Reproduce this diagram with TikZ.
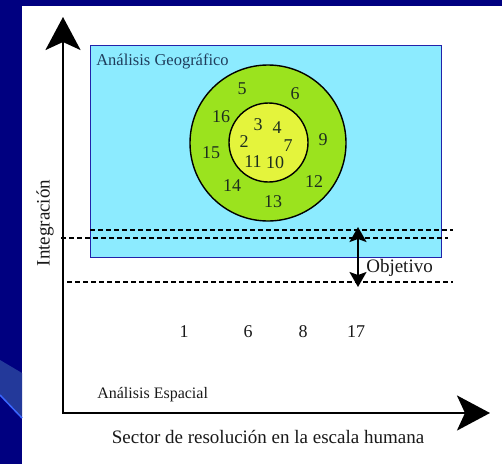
\documentclass[tikz,border=0pt]{standalone}
\usepackage{fontspec}
\setmainfont{Liberation Serif}
\usepackage{xcolor}
\usepackage{tikz}
\usetikzlibrary{arrows.meta}
\usetikzlibrary{calc}
\usetikzlibrary{positioning}

\definecolor{navy}{HTML}{000080}
\definecolor{band}{HTML}{23399A}
\definecolor{bandline}{HTML}{3A66FF}
\definecolor{geofill}{HTML}{8CEBFF}
\definecolor{geoline}{HTML}{2222AA}
\definecolor{ringgreen}{HTML}{9BE31E}
\definecolor{coreyellow}{HTML}{E4F43C}
\definecolor{geotext}{HTML}{1F3D5C}
\definecolor{numtext}{HTML}{1E2E1E}

\begin{document}
\begin{tikzpicture}[x=1pt,y=-1pt,semithick]
  \tikzstyle{every node}=[inner sep=0pt, text=black!90]
  \tikzstyle{num}=[font=\fontsize{18}{18}\selectfont, text=numtext]
  \tikzstyle{bignum}=[font=\fontsize{18}{18}\selectfont]
  \tikzstyle{axis}=[line width=2.6pt, line cap=rect, -{Stealth[length=33pt,width=35pt,inset=8pt]}]
  \tikzstyle{guide}=[line width=1.1pt, dash pattern=on 5pt off 3pt]
  \tikzstyle{ring}=[circle, draw=black, line width=1.4pt]

  \useasboundingbox (0,0) rectangle (502,464);
  % slide frame
  \fill[navy] (0,0) rectangle (502,464);
  \fill[white] (22,6) rectangle (502,464);
  \fill[band] (0,360) -- (22,373) -- (22,418) -- (0,395) -- cycle;
  \draw[bandline, line width=1.5pt] (0,395) -- (22,418);

  % geographic region
  \node[draw=geoline, fill=geofill, line width=1pt, minimum width=351pt, minimum height=212pt] (geo) at (265.5,151) {};
  \node[anchor=west, text=geotext, font=\fontsize{16.5}{16.5}\selectfont] (geolabel) at (96,61) {Análisis Geográfico};

  \node[ring, fill=ringgreen, minimum size=156pt] (outer) at (268,143) {};
  \node[ring, fill=coreyellow, minimum size=79pt] (inner) at (268.5,142.5) {};

  \foreach \n/\x/\y in {5/242/89, 6/295/94, 16/221/117, 3/258/125, 4/277/128,
                        2/244/142, 7/288/146, 9/323/140, 15/211/153, 11/253/162,
                        10/275/163, 14/232/186, 12/314/182, 13/273/202}{
    \node[num] (c\n) at (\x,\y) {\n};
  }

  % guide lines
  \coordinate (g1a) at (90,230);  \coordinate (g1b) at (453,230);
  \coordinate (g2a) at (61,238);  \coordinate (g2b) at (448,238);
  \coordinate (g3a) at (67,282);  \coordinate (g3b) at (453,282);
  \draw[guide] (g1a) -- (g1b);
  \draw[guide] (g2a) -- (g2b);
  \draw[guide] (g3a) -- (g3b);

  \coordinate (objtop) at (358,227);
  \coordinate (objbot) at (358,287);
  \draw[line width=2pt, {Stealth[length=15pt,width=17pt,inset=3pt]}-{Stealth[length=15pt,width=17pt,inset=3pt]}] (objtop) -- (objbot);
  \node[anchor=west, font=\fontsize{19}{19}\selectfont] (objetivo) at (366,268) {Objetivo};

  % spatial analysis
  \foreach \n/\x in {1/184, 6/248, 8/303, 17/356}{
    \node[bignum] (b\n) at (\x,332) {\n};
  }
  \node[anchor=west, font=\fontsize{16}{16}\selectfont] (espacial) at (97,395) {Análisis Espacial};

  % axes
  \coordinate (O) at (63,413);
  \coordinate (ytop) at (63,17);
  \coordinate (xend) at (490,413);
  \draw[axis] (O) -- (ytop);
  \draw[axis] (O) -- (xend);
  \node[font=\fontsize{19}{19}\selectfont] (xlabel) at (268,437) {Sector de resolución en la escala humana};
  \node[rotate=90, font=\fontsize{19}{19}\selectfont] (ylabel) at (45,223) {Integración};
\end{tikzpicture}
\end{document}
